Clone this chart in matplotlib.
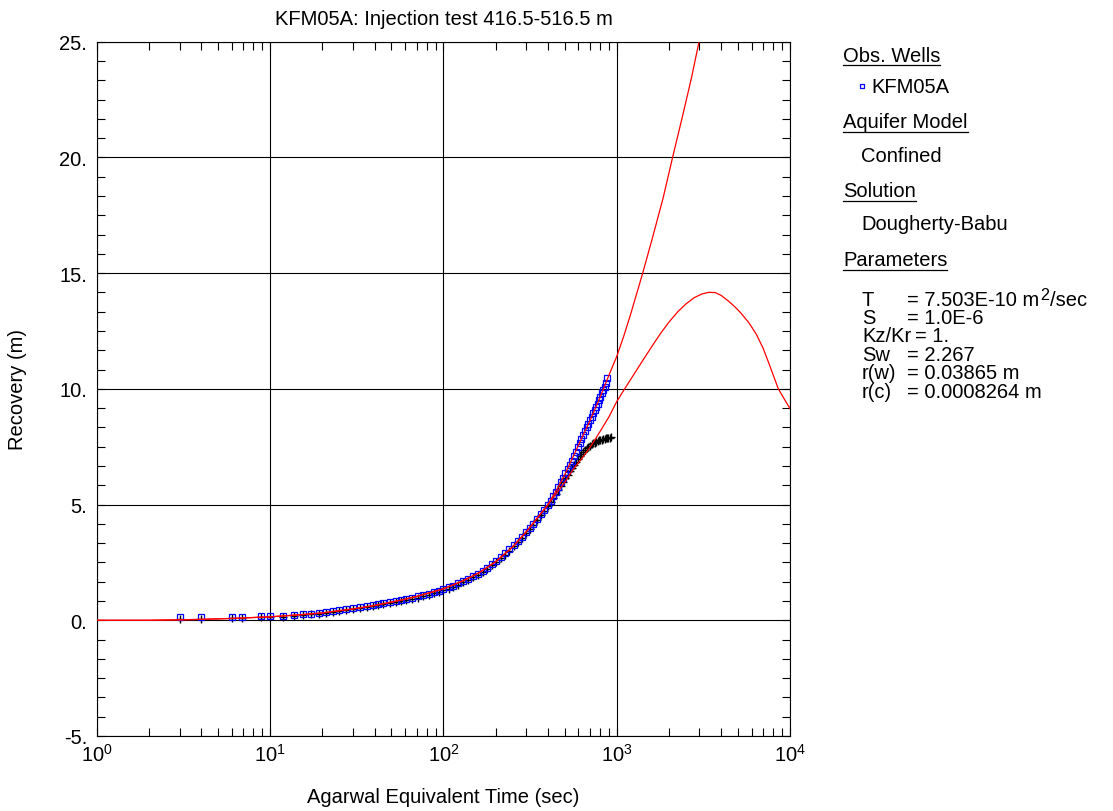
import numpy as np
import matplotlib
matplotlib.use("Agg")
import matplotlib.pyplot as plt
from matplotlib.lines import Line2D
from matplotlib.ticker import FixedLocator, FuncFormatter, LogLocator, NullFormatter

plt.rcParams['font.family'] = ['Liberation Sans', 'DejaVu Sans']
plt.rcParams['mathtext.fontset'] = 'custom'
plt.rcParams['mathtext.rm'] = 'Liberation Sans'
plt.rcParams['mathtext.it'] = 'Liberation Sans:italic'
plt.rcParams['mathtext.bf'] = 'Liberation Sans:bold'

# ---- observed data (Agarwal time, sec / recovery, m) ----
t_obs = [3.0, 4.0, 6.0, 6.9, 8.8, 10.0, 11.9, 13.7, 15.5, 17.3, 19.2, 21.0, 23.0, 25.0, 27.5,
         30, 33, 36, 39, 42, 45, 49, 53, 57, 61, 66, 71, 76, 82, 88, 94,
         100, 107, 114, 122, 130, 139, 148, 158, 168, 179, 190, 202, 214, 227, 240, 254,
         268, 283, 298, 314, 330, 347, 364, 382,
         400, 415, 430, 445, 460, 475, 490, 505, 520, 535, 550, 565, 580, 595, 610, 625,
         640, 655, 670, 685, 700, 715, 730, 745, 760, 775, 790, 805, 820, 835, 850, 865, 880]

rec_kfm05a = [0.15, 0.15, 0.14, 0.13, 0.20, 0.17, 0.18, 0.23, 0.26, 0.29, 0.33, 0.37, 0.41, 0.45, 0.49,
              0.53, 0.57, 0.62, 0.66, 0.70, 0.74, 0.79, 0.84, 0.89, 0.93, 0.98, 1.03, 1.08, 1.15, 1.21, 1.27,
              1.34, 1.42, 1.50, 1.59, 1.69, 1.79, 1.90, 2.02, 2.14, 2.28, 2.42, 2.57, 2.72, 2.89, 3.06, 3.24,
              3.42, 3.61, 3.80, 3.99, 4.18, 4.38, 4.58, 4.78,
              4.98, 5.17, 5.37, 5.56, 5.76, 5.96, 6.16, 6.36, 6.53, 6.72, 6.90, 7.09, 7.28, 7.47, 7.66, 7.85,
              8.02, 8.19, 8.35, 8.50, 8.65, 8.80, 8.94, 9.08, 9.22, 9.36, 9.51, 9.65, 9.80, 9.95, 10.10, 10.25, 10.45]

t_obs2 = t_obs + [895, 910, 925]
rec_obs2 = [0.05, 0.07, 0.10, 0.08, 0.13, 0.14, 0.15, 0.19, 0.22, 0.25, 0.29, 0.33, 0.37, 0.40, 0.44,
            0.48, 0.52, 0.57, 0.61, 0.65, 0.69, 0.74, 0.79, 0.84, 0.88, 0.93, 0.98, 1.03, 1.10, 1.16, 1.22,
            1.29, 1.37, 1.45, 1.54, 1.64, 1.74, 1.85, 1.97, 2.09, 2.23, 2.37, 2.52, 2.67, 2.84, 3.01, 3.19,
            3.37, 3.56, 3.75, 3.94, 4.13, 4.33, 4.53, 4.73,
            4.95, 5.12, 5.30, 5.47, 5.64, 5.81, 5.97, 6.13, 6.28, 6.43, 6.58, 6.72, 6.86, 6.98, 7.10, 7.20,
            7.29, 7.37, 7.44, 7.50, 7.55, 7.60, 7.64, 7.68, 7.71, 7.74, 7.77, 7.79, 7.81, 7.83, 7.85, 7.86, 7.87,
            7.88, 7.89, 7.90]

# ---- type curves (Dougherty-Babu) ----
t_fit = [1, 2, 3, 4, 6, 8, 10, 15, 20, 30, 40, 56, 70, 100, 130, 160, 200, 250, 300, 350]
s_fit = [0.0, 0.0, 0.02, 0.04, 0.08, 0.12, 0.15, 0.24, 0.32, 0.49, 0.64, 0.86, 1.03, 1.36, 1.71,
         2.05, 2.53, 3.16, 3.82, 4.44]
t_fit_a = [400, 450, 500, 600, 700, 800, 900, 1000, 1100, 1200, 1412, 1600, 1850, 2100, 2400,
           2700, 2985, 3200]
s_fit_a = [5.0, 5.63, 6.28, 7.55, 8.62, 9.62, 10.58, 11.4, 12.3, 13.2, 15.0, 16.47, 18.23, 20.0,
           21.8, 23.44, 25.0, 26.0]
t_fit_b = [400, 430, 500, 561, 630, 701, 800, 900, 1000, 1100, 1250, 1400, 1600, 1800, 2000, 2250,
           2500, 2800, 3100, 3400, 3700, 4000, 4400, 4800, 5200, 5800, 6400, 7000, 7600, 8200,
           8560, 9200, 10000]
s_fit_b = [4.98, 5.31, 5.95, 6.53, 7.0, 7.47, 8.15, 8.78, 9.45, 9.95, 10.6, 11.18, 11.85, 12.42,
           12.88, 13.33, 13.66, 13.94, 14.1, 14.17, 14.16, 14.04, 13.8, 13.55, 13.28, 12.85, 12.35,
           11.75, 11.05, 10.38, 10.0, 9.6, 9.15]

params = [("T", ["= 7.503E-10 m", "2", "/sec"]), ("S", ["= 1.0E-6"]), ("Kz/Kr", ["= 1."]),
          ("Sw", ["= 2.267"]), ("r(w)", ["= 0.03865 m"]), ("r(c)", ["= 0.0008264 m"])]

W, H = 1113, 812
FS = 14.5
fig = plt.figure(figsize=(W / 100, H / 100), dpi=100)
ax = fig.add_axes([97 / W, 1 - 737 / H, 693 / W, 694.3 / H])

ax.plot(t_obs2, rec_obs2, '+', color='k', ms=5.5, mew=1.0, zorder=3)
ax.plot(t_obs, rec_kfm05a, 's', mfc='none', mec='#0000ff', ms=4.5, mew=0.9, zorder=4)
ax.plot(t_fit + t_fit_a, s_fit + s_fit_a, color='#ff0000', lw=0.9, zorder=5)
ax.plot(t_fit + t_fit_b, s_fit + s_fit_b, color='#ff0000', lw=0.9, zorder=5)

ax.set_xscale('log')
ax.set_xlim(1, 1e4)
ax.set_ylim(-5, 25)
ax.xaxis.set_major_locator(LogLocator(base=10, numticks=10))
ax.xaxis.set_minor_locator(LogLocator(base=10, subs=np.arange(2, 10), numticks=20))
ax.xaxis.set_minor_formatter(NullFormatter())
ax.yaxis.set_major_locator(FixedLocator(np.arange(-5, 26, 5)))
ax.yaxis.set_minor_locator(FixedLocator(np.arange(-5, 25.01, 5 / 6)))
ax.yaxis.set_major_formatter(FuncFormatter(lambda v, p: "%g." % v))
ax.tick_params(which='both', direction='in', top=True, right=True, length=6, width=0.8,
               labelsize=FS)
ax.tick_params(axis='x', pad=5)
ax.tick_params(axis='y', pad=7)
ax.grid(True, which='major', color='k', lw=0.8)
for sp in ax.spines.values():
    sp.set_linewidth(0.8)

fig.text(443.5 / W, 1 - 25 / H, "KFM05A: Injection test 416.5-516.5 m", ha='center',
         va='baseline', fontsize=FS)
fig.text(443.5 / W, 1 - 803 / H, "Agarwal Equivalent Time (sec)", ha='center',
         va='baseline', fontsize=FS)
fig.text(18 / W, 1 - 390 / H, "Recovery (m)", ha='center', va='center', rotation=90,
         fontsize=FS)

# ---- side panel ----
renderer = fig.canvas.get_renderer()


def item(x, base, s, size=FS):
    t = fig.text(x / W, 1 - base / H, s, ha='left', va='baseline', fontsize=size)
    return t.get_window_extent(renderer)


def header(base, s):
    bb = item(843, base, s)
    yl = 1 - (base + 4.5) / H
    fig.add_artist(Line2D([bb.x0 / W, bb.x1 / W], [yl, yl], color='k', lw=0.9,
                          transform=fig.transFigure))


header(61.5, "Obs. Wells")
fig.add_artist(Line2D([862 / W], [1 - 86.5 / H], marker='s', mfc='none', mec='#0000ff',
                      ms=3.5, mew=0.9, transform=fig.transFigure))
item(871, 92.7, "KFM05A")
header(128, "Aquifer Model")
item(861, 161.5, "Confined")
header(197, "Solution")
item(861, 230, "Dougherty-Babu")
header(266, "Parameters")
for i, (k, parts) in enumerate(params):
    base = 305.7 + i * 18.4
    bb = item(862, base, k)
    x = max(907, bb.x1 + 4)
    for j, p in enumerate(parts):
        if p == "2":
            pb = item(x + 1, base - 6, p, size=FS * 0.8)
            x = pb.x1 + 1
        else:
            pb = item(x, base, p)
            x = pb.x1
fig.savefig("out.png", dpi=100)
